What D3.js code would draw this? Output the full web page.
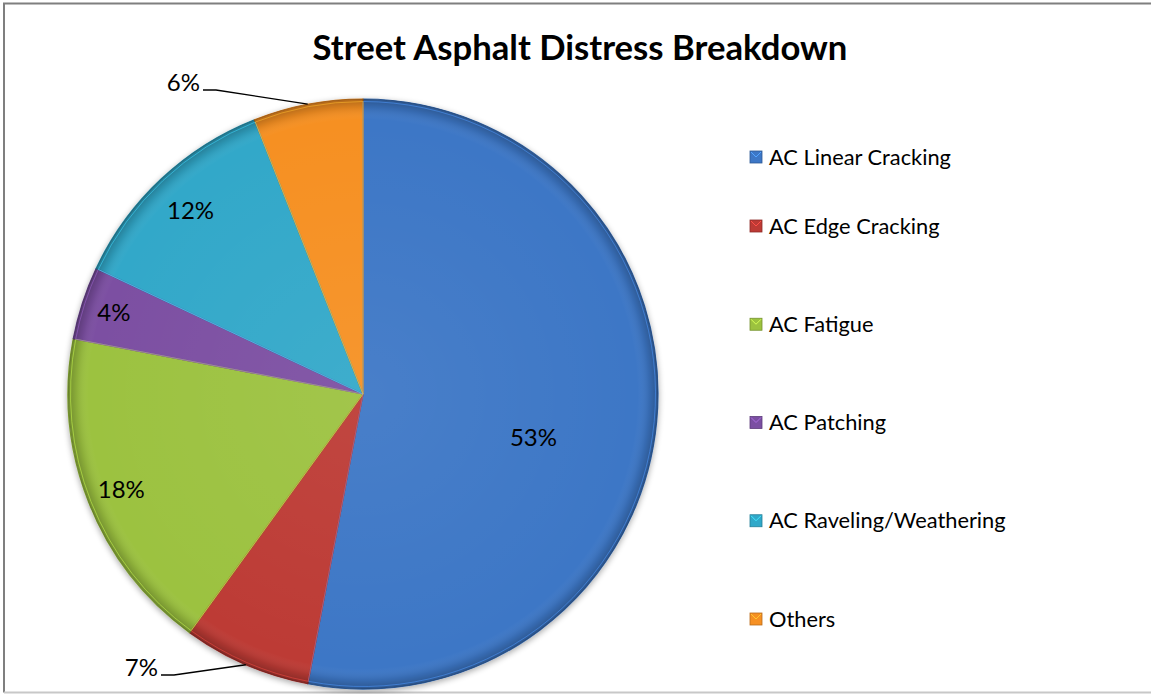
<!DOCTYPE html>
<html>
<head>
<meta charset="utf-8">
<script src="https://cdn.jsdelivr.net/npm/d3@7/dist/d3.min.js"></script>
<style>
  html, body { margin: 0; padding: 0; background: #fff; }
  svg { display: block; }
  text { font-family: Lato, "Open Sans", "Liberation Sans", sans-serif; fill: #000; }
</style>
</head>
<body>
<svg id="chart" width="1151" height="694"></svg>
<script>
// Distress categories and their share of the total (percent)
const categories = ["AC Linear Cracking", "AC Edge Cracking", "AC Fatigue", "AC Patching", "AC Raveling/Weathering", "Others"];
const shares = [53, 7, 18, 4, 12, 6];
const colors = ["#3d77c6", "#bd3a35", "#9cc23f", "#7b4fa2", "#30a8c9", "#f69023"];
const chartTitle = "Street Asphalt Distress Breakdown";

const W = 1151, H = 694;
const svg = d3.select("#chart");
const cx = 363, cy = 394, R = 295;

// frame
svg.append("rect").attr("x", 0).attr("y", 0).attr("width", W).attr("height", H).attr("fill", "#fff");
svg.append("path")
  .attr("d", `M4,${H - 1.5} V3.5 H${W}`)
  .attr("fill", "none").attr("stroke", "#7f7f7f").attr("stroke-width", 2);
svg.append("line").attr("x1", 4).attr("x2", W).attr("y1", H - 1.5).attr("y2", H - 1.5)
  .attr("stroke", "#c8c8c8").attr("stroke-width", 2);

function fitWidth(sel, target) {
  const fs = +sel.attr("font-size");
  const w = sel.node().getComputedTextLength();
  sel.attr("font-size", (fs * target / w).toFixed(2));
}

// title, fitted to its width
const title = svg.append("text")
  .attr("x", 580).attr("y", 60).attr("text-anchor", "middle")
  .attr("font-weight", "bold").attr("font-size", 29).text(chartTitle);
fitWidth(title, 535);

const defs = svg.append("defs");
// rim shading that gives the slices a bevelled look
const rg = defs.append("radialGradient").attr("id", "rim")
  .attr("gradientUnits", "userSpaceOnUse").attr("cx", 0).attr("cy", 0).attr("r", R);
rg.append("stop").attr("offset", "0%").attr("stop-color", "#fff").attr("stop-opacity", 0.06);
rg.append("stop").attr("offset", "93%").attr("stop-color", "#fff").attr("stop-opacity", 0);
rg.append("stop").attr("offset", "97%").attr("stop-color", "#000").attr("stop-opacity", 0.1);
rg.append("stop").attr("offset", "100%").attr("stop-color", "#000").attr("stop-opacity", 0.28);

const shadow = defs.append("filter").attr("id", "shadow")
  .attr("x", "-10%").attr("y", "-10%").attr("width", "120%").attr("height", "120%");
shadow.append("feGaussianBlur").attr("in", "SourceAlpha").attr("stdDeviation", 3);
shadow.append("feOffset").attr("dx", 0).attr("dy", 2).attr("result", "b");
shadow.append("feComponentTransfer").append("feFuncA").attr("type", "linear").attr("slope", 0.35);
const merge = shadow.append("feMerge");
merge.append("feMergeNode");
merge.append("feMergeNode").attr("in", "SourceGraphic");

const data = categories.map((c, i) => ({ name: c, value: shares[i], color: colors[i] }));
const pie = d3.pie().value(d => d.value).sort(null);
const arcs = pie(data);
const arc = d3.arc().innerRadius(0).outerRadius(R);

const g = svg.append("g").attr("transform", `translate(${cx},${cy})`);
const slices = g.append("g").attr("filter", "url(#shadow)");
slices.selectAll("path.slice").data(arcs).join("path")
  .attr("class", "slice")
  .attr("d", arc)
  .attr("fill", d => d.data.color)
  .attr("stroke", d => d3.color(d.data.color).darker(0.6))
  .attr("stroke-width", 1.2)
  .attr("stroke-linejoin", "round");
// bevel overlay on each slice
g.selectAll("path.bevel").data(arcs).join("path")
  .attr("class", "bevel")
  .attr("d", arc)
  .attr("fill", "url(#rim)");
// light inner edge along each slice
const inner = d3.arc().innerRadius(0).outerRadius(R - 2.5);
g.selectAll("path.hl").data(arcs).join("path")
  .attr("class", "hl")
  .attr("d", inner)
  .attr("fill", "none")
  .attr("stroke", d => d3.color(d.data.color).brighter(0.7))
  .attr("stroke-opacity", 0.55)
  .attr("stroke-width", 1);

// percentage labels
const labelFont = 24;
const insideRadius = { "AC Linear Cracking": 176, "AC Fatigue": 260, "AC Patching": 262, "AC Raveling/Weathering": 252 };
const angleShift = { "AC Linear Cracking": 9 * Math.PI / 180 };
const mid = d => (d.startAngle + d.endAngle) / 2;

arcs.forEach(d => {
  const name = d.data.name;
  const label = d.data.value + "%";
  if (insideRadius[name]) {
    const a = mid(d) + (angleShift[name] || 0);
    const r = insideRadius[name];
    g.append("text")
      .attr("x", r * Math.sin(a)).attr("y", -r * Math.cos(a))
      .attr("dy", "0.35em").attr("text-anchor", "middle")
      .attr("font-size", labelFont).text(label);
  } else {
    // outside label with a leader line to the slice rim
    const a = mid(d);
    const ex = R * Math.sin(a), ey = -R * Math.cos(a);
    const top = Math.cos(a) > 0;
    const tx = top ? 200 - cx : 158 - cx;
    const ty = top ? 90 - cy : 675 - cy;
    g.append("path")
      .attr("d", `M${tx + 3},${ty} H${tx + (top ? 16 : 16)} L${ex},${ey}`)
      .attr("fill", "none").attr("stroke", "#000").attr("stroke-width", 1.3);
    g.append("text")
      .attr("x", tx).attr("y", ty - 7)
      .attr("dy", "0.35em").attr("text-anchor", "end")
      .attr("font-size", labelFont).text(label);
  }
});

// legend: first row sits a little lower relative to the even spacing of the rest
const legendStep = 98.25;
const legendY = (i) => i === 0 ? 157 : 226 + (i - 1) * legendStep;
const lg = svg.append("g");
const items = lg.selectAll("g").data(data).join("g")
  .attr("transform", (d, i) => `translate(750,${legendY(i)})`);
items.append("rect")
  .attr("x", 0).attr("y", -6).attr("width", 12).attr("height", 12)
  .attr("fill", d => d.color)
  .attr("stroke", d => d3.color(d.color).darker(0.8)).attr("stroke-width", 0.8);
items.append("path")
  .attr("d", "M1,-5 L6,0 L11,-5")
  .attr("fill", "none")
  .attr("stroke", d => d3.color(d.color).brighter(0.9)).attr("stroke-width", 1);
const legendText = items.append("text")
  .attr("x", 19).attr("y", 0).attr("dy", "0.35em")
  .attr("font-size", 20).text(d => d.name);
// scale legend font so "AC Linear Cracking" spans its measured width
const first = legendText.nodes()[0];
const lfs = 20 * 182 / first.getComputedTextLength();
legendText.attr("font-size", lfs.toFixed(2));
</script>
</body>
</html>
